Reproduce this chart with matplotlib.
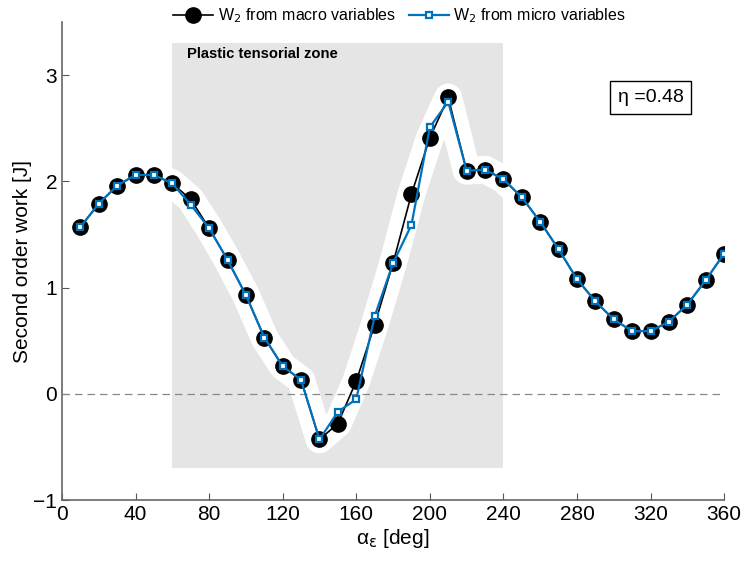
import matplotlib.pyplot as plt
import numpy as np

plt.rcParams['font.family'] = ['Liberation Sans', 'DejaVu Sans']

# angle alpha_eps [deg]
alpha = np.arange(10, 361, 10)

# second order work from macro variables
w2_macro = [1.57, 1.79, 1.96, 2.06, 2.06, 1.98, 1.83, 1.56, 1.26, 0.93,
            0.53, 0.26, 0.13, -0.43, -0.28, 0.12, 0.65, 1.23, 1.88, 2.41,
            2.79, 2.10, 2.11, 2.02, 1.85, 1.62, 1.36, 1.08, 0.87, 0.70,
            0.59, 0.59, 0.68, 0.84, 1.07, 1.32]

# second order work from micro variables
w2_micro = [1.57, 1.79, 1.96, 2.06, 2.06, 1.98, 1.78, 1.56, 1.26, 0.93,
            0.53, 0.26, 0.13, -0.43, -0.17, -0.05, 0.73, 1.23, 1.59, 2.51,
            2.75, 2.10, 2.11, 2.02, 1.85, 1.62, 1.36, 1.08, 0.87, 0.70,
            0.59, 0.59, 0.68, 0.84, 1.07, 1.32]

zone_x = (60, 240)
zone_y = (-0.7, 3.3)
eta = 0.48

blue = '#0072BD'

fig = plt.figure(figsize=(7.44, 5.65), dpi=100)
ax = fig.add_axes([0.0833, 0.115, 0.89, 0.846])

# plastic zone + white halo around curve
ax.fill_between(zone_x, zone_y[0], zone_y[1], color='#e5e5e5', lw=0, zorder=0)
ax.plot(alpha, w2_macro, color='white', lw=20, solid_joinstyle='round',
        solid_capstyle='round', zorder=1)
ax.text(68, 3.2, 'Plastic tensorial zone', fontsize=10.6, fontweight='bold',
        va='center', ha='left', zorder=2)

ax.axhline(0, color='#888888', lw=0.9, ls=(0, (6, 4)), zorder=2)

ax.plot(alpha, w2_macro, color='black', lw=1.2, marker='o', ms=11,
        mfc='black', mec='black', zorder=3,
        label=r'W$_2$ from macro variables')
ax.plot(alpha, w2_micro, color=blue, lw=1.6, marker='s', ms=5,
        mfc='white', mec=blue, mew=1.6, zorder=4,
        label=r'W$_2$ from micro variables')

ax.text(320, 2.79, f'η ={eta}', fontsize=14, ha='center', va='center',
        bbox=dict(boxstyle='square,pad=0.4', fc='white', ec='black', lw=1))

ax.set_xlim(0, 360)
ax.set_ylim(-1, 3.5)
ax.set_xticks(np.arange(0, 361, 40))
ax.set_yticks([-1, 0, 1, 2, 3])
ax.tick_params(direction='in', labelsize=15, color='#555555', length=5)
for s in ['top', 'right']:
    ax.spines[s].set_visible(False)
for s in ['left', 'bottom']:
    ax.spines[s].set_color('#666666')
    ax.spines[s].set_linewidth(1.2)

ax.set_xlabel(r'α$_{\mathrm{ε}}$ [deg]', fontsize=15, labelpad=2)
ax.set_ylabel('Second order work [J]', fontsize=15, labelpad=1)

ax.legend(loc='lower center', bbox_to_anchor=(0.51, 0.98), ncol=2,
          frameon=False, fontsize=11.5, handlelength=2.5, columnspacing=0.8,
          borderaxespad=0, handletextpad=0.3)

fig.savefig('out.png', dpi=100)
